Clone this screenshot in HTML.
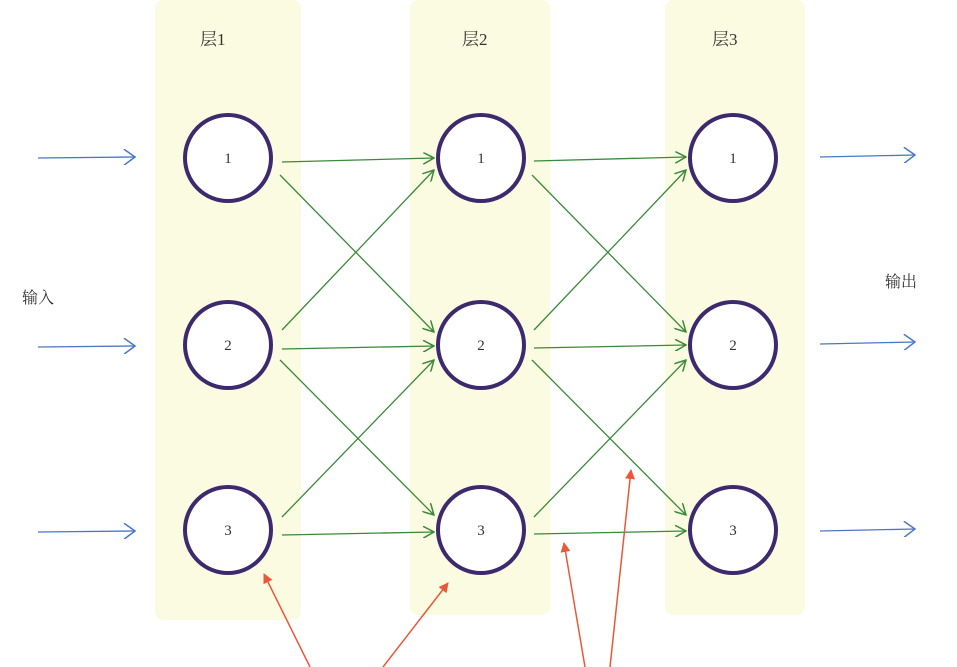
<!DOCTYPE html>
<html><head><meta charset="utf-8"><style>
body{margin:0;background:#fff;}
svg{display:block;}
text{font-family:"Liberation Serif","Noto Serif CJK SC",serif;fill:#333;}
</style></head><body>
<svg width="957" height="667" viewBox="0 0 957 667">
<defs>
<marker id="g" markerWidth="12" markerHeight="12" refX="11" refY="6" orient="auto" markerUnits="userSpaceOnUse"><path d="M0,0 L11,6 L0,12" fill="none" stroke="#3a8a3a" stroke-width="1.5"/></marker>
<marker id="b" markerWidth="14" markerHeight="16" refX="13" refY="8" orient="auto" markerUnits="userSpaceOnUse"><path d="M2,0 L13,8 L2,16" fill="none" stroke="#4a78c8" stroke-width="1.5"/></marker>
<marker id="r" markerWidth="10" markerHeight="10" refX="9" refY="5" orient="auto" markerUnits="userSpaceOnUse"><path d="M0,0 L10,5 L0,10 Z" fill="#e8583a"/></marker>
</defs>
<rect x="155" y="0" width="146" height="620" rx="8" fill="#fafbe0"/>
<rect x="410" y="0" width="140" height="615" rx="8" fill="#fafbe0"/>
<rect x="665" y="0" width="140" height="615" rx="8" fill="#fafbe0"/>
<text x="200" y="45" font-size="17">层1</text>
<text x="462" y="45" font-size="17">层2</text>
<text x="712" y="45" font-size="17">层3</text>
<text x="22" y="303" font-size="16">输入</text>
<text x="885" y="287" font-size="16">输出</text>
<g stroke="#4a78c8" stroke-width="1.3" marker-end="url(#b)">
<line x1="38" y1="158" x2="135" y2="157"/>
<line x1="38" y1="347" x2="135" y2="346"/>
<line x1="38" y1="532" x2="135" y2="531"/>
<line x1="820" y1="157" x2="915" y2="155"/>
<line x1="820" y1="344" x2="915" y2="342"/>
<line x1="820" y1="531" x2="915" y2="529"/>
</g>
<g stroke="#3a8a3a" stroke-width="1.3" marker-end="url(#g)">
<line x1="282" y1="162" x2="434" y2="158"/><line x1="280" y1="175" x2="434" y2="332"/>
<line x1="282" y1="330" x2="434" y2="170"/><line x1="282" y1="349" x2="434" y2="346"/><line x1="280" y1="360" x2="434" y2="515"/>
<line x1="282" y1="517" x2="434" y2="360"/><line x1="282" y1="535" x2="434" y2="532"/>
<line x1="534" y1="161" x2="686" y2="157"/><line x1="532" y1="175" x2="686" y2="332"/>
<line x1="534" y1="330" x2="686" y2="170"/><line x1="534" y1="348" x2="686" y2="345"/><line x1="532" y1="360" x2="686" y2="515"/>
<line x1="534" y1="517" x2="686" y2="360"/><line x1="534" y1="534" x2="686" y2="531"/>
</g>
<g fill="#fff" stroke="#3d2a6e" stroke-width="4">
<circle cx="228" cy="158" r="43"/><circle cx="228" cy="345" r="43"/><circle cx="228" cy="530" r="43"/>
<circle cx="481" cy="158" r="43"/><circle cx="481" cy="345" r="43"/><circle cx="481" cy="530" r="43"/>
<circle cx="733" cy="158" r="43"/><circle cx="733" cy="345" r="43"/><circle cx="733" cy="530" r="43"/>
</g>
<g font-size="15" text-anchor="middle">
<text x="228" y="163">1</text><text x="228" y="350">2</text><text x="228" y="535">3</text>
<text x="481" y="163">1</text><text x="481" y="350">2</text><text x="481" y="535">3</text>
<text x="733" y="163">1</text><text x="733" y="350">2</text><text x="733" y="535">3</text>
</g>
<g stroke="#e8583a" stroke-width="1.5" marker-end="url(#r)">
<line x1="310" y1="667" x2="264" y2="574"/>
<line x1="383" y1="667" x2="448" y2="583"/>
<line x1="585" y1="667" x2="564" y2="543"/>
<line x1="610" y1="667" x2="631" y2="470"/>
</g>
</svg>
</body></html>
